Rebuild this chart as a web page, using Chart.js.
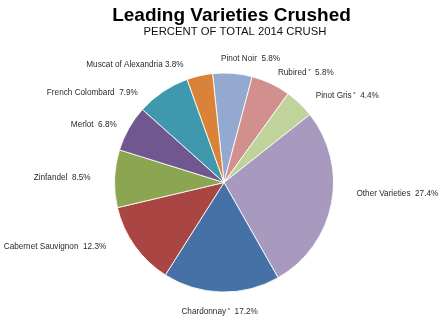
<!DOCTYPE html>
<html>
<head>
<meta charset="utf-8">
<script src="https://cdn.jsdelivr.net/npm/chart.js@4"></script>
<style>
html,body{margin:0;padding:0;background:#fff;}
canvas{display:block;}
</style>
</head>
<body>
<canvas id="c" width="440" height="322"></canvas>
<script>
// ---- data ----
const categories = ['Pinot Noir', 'Rubired*', 'Pinot Gris*', 'Other Varieties', 'Chardonnay*',
  'Cabernet Sauvignon', 'Zinfandel', 'Merlot', 'French Colombard', 'Muscat of Alexandria'];
const shares = [5.8, 5.8, 4.4, 27.4, 17.2, 12.3, 8.5, 6.8, 7.9, 3.8];
const valueLabels = ['5.8%', '5.8%', '4.4%', '27.4%', '17.2%', '12.3%', '8.5%', '6.8%', '7.9%', '3.8%'];
const separators = ['  ', '  ', '  ', '  ', '  ', '  ', '  ', '  ', '  ', ' '];
const titleText = 'Leading Varieties Crushed';
const subtitleText = 'PERCENT OF TOTAL 2014 CRUSH';

// ---- styles ----
const sliceColors = ['#93A9D0', '#D18F8E', '#BFD39B', '#A89ABF', '#4571A7',
  '#A94643', '#8BA550', '#705790', '#4098AF', '#DA8238'];
// label anchor nudges relative to slice edge at mid-angle [dx, dy]
const labelNudges = [[18, -14.8], [7, -11], [16, -8], [25, -10], [-1.7, 19.5],
  [-28.6, 0.4], [-24, -0.7], [-12, -4], [-25, 1.4], [-16, -11.4]];
const FONT = '"Liberation Sans", Arial, Helvetica, sans-serif';

const labelPlugin = {
  id: 'outsideLabels',
  afterDatasetsDraw(chart) {
    const ctx = chart.ctx;
    const meta = chart.getDatasetMeta(0);
    ctx.save();
    ctx.fillStyle = '#2a2a2a';
    ctx.textBaseline = 'middle';
    meta.data.forEach((arc, i) => {
      const p = arc.getProps(['x', 'y', 'startAngle', 'endAngle', 'outerRadius'], true);
      const a = (p.startAngle + p.endAngle) / 2;
      const ex = p.x + Math.cos(a) * p.outerRadius;
      const ey = p.y + Math.sin(a) * p.outerRadius;
      const c = Math.cos(a);
      let align = Math.abs(c) < 0.1 ? 'center' : (c > 0 ? 'left' : 'right');
      const ax = ex + labelNudges[i][0];
      const ay = ey + labelNudges[i][1];
      const raw = categories[i];
      const star = raw.endsWith('*');
      const name = star ? raw.slice(0, -1) : raw;
      const mainFont = '8.2px ' + FONT;
      const starFont = '6px ' + FONT;
      ctx.font = mainFont;
      const wName = ctx.measureText(name).width;
      const tail = separators[i] + valueLabels[i];
      const wTail = ctx.measureText(tail).width;
      let wStar = 0;
      if (star) { ctx.font = starFont; wStar = ctx.measureText(' *').width; }
      const total = wName + wStar + wTail;
      let x0 = align === 'left' ? ax : (align === 'right' ? ax - total : ax - total / 2);
      ctx.textAlign = 'left';
      ctx.font = mainFont;
      ctx.fillText(name, x0, ay);
      x0 += wName;
      if (star) {
        ctx.font = starFont;
        ctx.fillText(' *', x0, ay - 1.5);
        x0 += wStar;
        ctx.font = mainFont;
      }
      ctx.fillText(tail, x0, ay);
    });
    ctx.restore();
  },
  afterDraw(chart) {
    const ctx = chart.ctx;
    ctx.save();
    ctx.fillStyle = '#000';
    ctx.textAlign = 'center';
    ctx.textBaseline = 'alphabetic';
    ctx.font = 'bold 19px ' + FONT;
    ctx.fillText(titleText, 231.5, 20.8);
    ctx.fillStyle = '#111';
    ctx.font = '11.3px ' + FONT;
    ctx.fillText(subtitleText, 235, 35);
    ctx.restore();
  }
};

new Chart(document.getElementById('c'), {
  type: 'pie',
  data: {
    labels: categories,
    datasets: [{
      data: shares,
      backgroundColor: sliceColors,
      borderColor: 'rgba(255,255,255,0.85)',
      borderWidth: 1
    }]
  },
  options: {
    responsive: false,
    devicePixelRatio: 1,
    animation: false,
    rotation: -6,
    layout: { padding: { left: 114, right: 106, top: 72.5, bottom: 29.5 } },
    plugins: {
      legend: { display: false },
      tooltip: { enabled: false },
      title: { display: false }
    },
    events: []
  },
  plugins: [labelPlugin]
});
</script>
</body>
</html>
